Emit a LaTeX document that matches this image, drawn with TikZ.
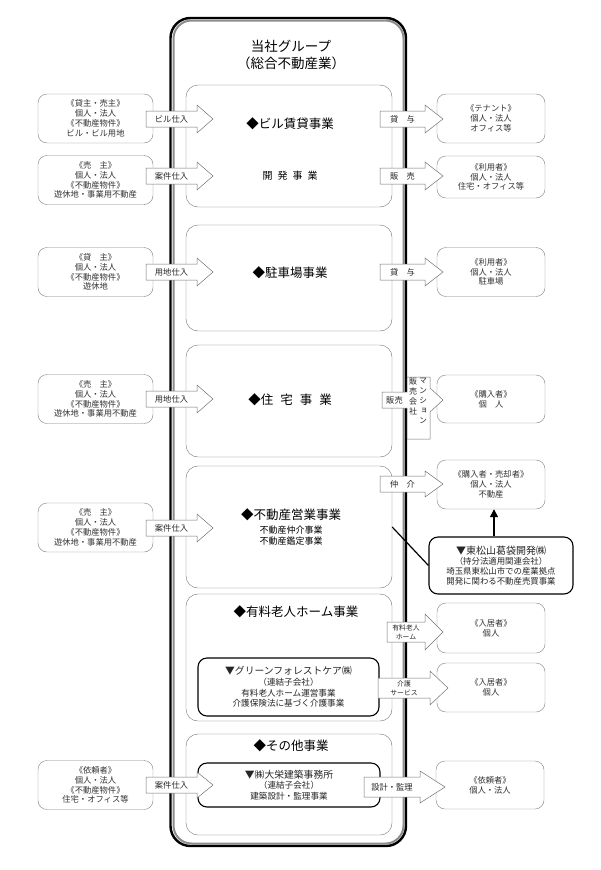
\documentclass[tikz,border=0pt]{standalone}
\usepackage{fontspec}
\setmainfont{Noto Sans CJK JP}
\newfontfamily\vertfont[RawFeature=+vert]{Noto Sans CJK JP}
\usetikzlibrary{arrows.meta}

% block arrow: name, tail x, tip x, y, body half, head half, head length, label, label options
\newcommand{\blockarrow}[9]{%
  \draw[arrowline] (#2,#4-#5) -- (#3-#7,#4-#5) -- (#3-#7,#4-#6) -- (#3,#4)
     -- (#3-#7,#4+#6) -- (#3-#7,#4+#5) -- (#2,#4+#5) -- cycle;
  \node[arrowlabel,#9] (#1) at ({(#2+#3-#7)/2},#4) {#8};
}

\begin{document}
\begin{tikzpicture}[x=1pt, y=-1pt,
    sidebox/.style={draw=black!50, rounded corners=9pt, fill=white, minimum width=115pt, minimum height=49pt,
      align=center, inner sep=1pt, text=black!80, font=\fontsize{8.3}{9.8}\selectfont},
    custbox/.style={sidebox, minimum width=108pt},
    bizbox/.style={draw=black!55, rounded corners=12pt, minimum width=206pt, inner sep=0pt},
    subco/.style={draw=black, line width=1.1pt, rounded corners=9pt, fill=white, align=center, inner sep=0pt,
      text=black!85, font=\fontsize{8.6}{10.6}\selectfont},
    bizname/.style={font=\fontsize{12.5}{14}\selectfont, inner sep=0pt},
    arrowline/.style={draw=black!55, fill=white, line width=0.5pt},
    arrowlabel/.style={align=center, inner sep=0pt, text=black!85, font=\fontsize{8.3}{9.8}\selectfont},
    vlabel/.style={align=center, inner sep=0pt, text=black!85, font=\vertfont\fontsize{8}{10}\selectfont}]
  \useasboundingbox (0,0) rectangle (600,870);

  % group frame
  \draw[black!45, line width=2pt, rounded corners=18pt] (173.5,20.5) rectangle (403.5,843.5);
  \draw[black, line width=2.4pt, rounded corners=20pt] (170.5,18) rectangle (406,846);
  \node[bizname, font=\fontsize{13.5}{15}\selectfont] (group) at (291,46) {当社グループ};
  \node[bizname, font=\fontsize{13.5}{15}\selectfont] (groupsub) at (291,63) {（総合不動産業）};

  % business sections
  \node[bizbox, minimum height=122pt] (biz1) at (289,146) {};
  \node[bizbox, minimum height=106pt] (biz2) at (289,278) {};
  \node[bizbox, minimum height=112pt] (biz3) at (289,401) {};
  \node[bizbox, minimum height=122pt] (biz4) at (289,527) {};
  \node[bizbox, minimum height=127pt] (biz5) at (289,657.5) {};
  \node[bizbox, minimum height=101pt] (biz6) at (289,784.5) {};

  \node[bizname] (t1) at (290,124) {◆ビル賃貸事業};
  \node[bizname, font=\fontsize{10}{12}\selectfont] (t1b) at (290,176) {開\kern5pt 発\kern5pt 事\kern5pt 業};
  \node[bizname] (t2) at (290,273) {◆駐車場事業};
  \node[bizname] (t3) at (290,400) {◆住\kern7pt 宅\kern7pt 事\kern7pt 業};
  \node[bizname] (t4) at (291,515) {◆不動産営業事業};
  \node[bizname, align=center, font=\fontsize{9}{11}\selectfont] (t4b) at (291,535.5) {不動産仲介事業\\不動産鑑定事業};
  \node[bizname] (t5) at (296,612) {◆有料老人ホーム事業};
  \node[bizname] (t6) at (291,746) {◆その他事業};

  % subsidiaries
  \node[subco, minimum width=181pt, minimum height=58pt] (green) at (288.5,687)
    {{\fontsize{9.8}{11}\selectfont ▼グリーンフォレストケア㈱}\\（連結子会社）\\有料老人ホーム運営事業\\介護保険法に基づく介護事業};
  \node[subco, minimum width=182pt, minimum height=44pt] (daiei) at (289,785)
    {{\fontsize{9.8}{11}\selectfont ▼㈱大栄建築事務所}\\（連結子会社）\\建築設計・監理事業};
  \node[subco, minimum width=144pt, minimum height=57pt, font=\fontsize{8.4}{10.2}\selectfont] (higashi) at (501,565.5)
    {{\fontsize{10}{11}\selectfont ▼東松山葛袋開発㈱}\\（持分法適用関連会社）\\埼玉県東松山市での産業拠点\\開発に関わる不動産売買事業};

  % suppliers
  \node[sidebox] (sup1) at (95.5,118.5) {《貸主・売主》\\個人・法人\\《不動産物件》\\ビル・ビル用地};
  \node[sidebox] (sup2) at (95.5,180) {《売　主》\\個人・法人\\《不動産物件》\\遊休地・事業用不動産};
  \node[sidebox] (sup3) at (95.5,272) {《貸　主》\\個人・法人\\《不動産物件》\\遊休地};
  \node[sidebox] (sup4) at (95.5,399) {《売　主》\\個人・法人\\《不動産物件》\\遊休地・事業用不動産};
  \node[sidebox] (sup5) at (95.5,527.5) {《売　主》\\個人・法人\\《不動産物件》\\遊休地・事業用不動産};
  \node[sidebox] (sup6) at (95.5,785) {《依頼者》\\個人・法人\\《不動産物件》\\住宅・オフィス等};

  % customers
  \node[custbox] (cus1) at (491,118.5) {《テナント》\\個人・法人\\オフィス等};
  \node[custbox, minimum height=42pt] (cus2) at (491,177) {《利用者》\\個人・法人\\住宅・オフィス等};
  \node[custbox] (cus3) at (491,272) {《利用者》\\個人・法人\\駐車場};
  \node[custbox, minimum height=48pt] (cus4) at (491,399) {《購入者》\\個　人};
  \node[custbox] (cus5) at (491,484.5) {《購入者・売却者》\\個人・法人\\不動産};
  \node[custbox, minimum height=50pt] (cus6) at (491,628) {《入居者》\\個人};
  \node[custbox] (cus7) at (491,687.5) {《入居者》\\個人};
  \node[custbox, minimum height=48pt] (cus8) at (490,785) {《依頼者》\\個人・法人};

  % flows in
  \blockarrow{a1}{146}{213}{119}{8}{14}{16}{ビル仕入}{}
  \blockarrow{a2}{146}{213}{176}{8}{14}{16}{案件仕入}{}
  \blockarrow{a3}{146}{213}{272}{8}{14}{16}{用地仕入}{}
  \blockarrow{a4}{146}{213}{399}{8}{14}{16}{用地仕入}{}
  \blockarrow{a5}{146}{213}{528}{8}{14}{16}{案件仕入}{}
  \blockarrow{a6}{146}{213}{785}{8}{13}{16}{案件仕入}{}

  % flows out
  \blockarrow{b1}{380}{443}{119}{8}{14}{18}{貸　与}{}
  \blockarrow{b2}{380}{443}{176}{8}{14}{18}{販　売}{}
  \blockarrow{b3}{380}{443}{272}{8}{14}{18}{貸　与}{}
  \blockarrow{b5}{380}{443}{484}{8}{13}{18}{仲　介}{}
  \blockarrow{b6}{387}{443}{632}{10}{18}{18}{有料老人\\ホーム}{font=\fontsize{6.8}{9}\selectfont}
  \blockarrow{b7}{378}{448}{688}{10}{17}{18}{介護\\サービス}{font=\fontsize{6.8}{9}\selectfont}
  \blockarrow{b8}{364}{445}{787}{10}{16}{25}{設計・監理}{}

  % condominium sales company
  \draw[arrowline] (382,392) -- (407,392) -- (407,377) -- (430,377) -- (430,388) -- (443,400)
     -- (430,412) -- (430,439) -- (407,439) -- (407,408) -- (382,408) -- cycle;
  \node[arrowlabel] (b4) at (394.5,400) {販売};
  \node[vlabel, anchor=north] (hkaisha) at (413,378) {販\\売\\会\\社};
  \node[vlabel, anchor=north] (mansion) at (423,378) {マ\\ン\\シ\\ョ\\ン};

  % affiliate links
  \coordinate (up) at (494,537);
  \draw[black, line width=1.2pt] (biz4.east) -- (higashi.west);
  \draw[black, line width=1.4pt, -{Triangle[length=8pt,width=8pt]}] (higashi.north -| up) -- (cus5.south -| up);
\end{tikzpicture}
\end{document}
